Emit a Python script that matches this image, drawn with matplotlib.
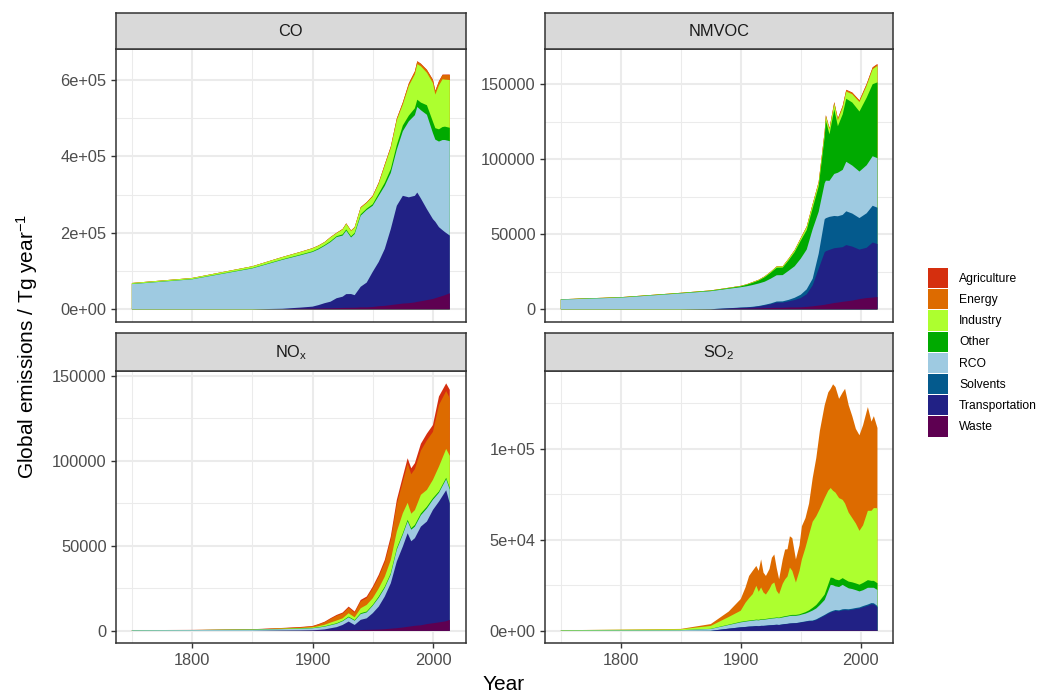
import numpy as np
import matplotlib
matplotlib.use("Agg")
import matplotlib.pyplot as plt
from matplotlib.patches import Patch
from matplotlib.ticker import FixedLocator

plt.rcParams["font.family"] = ["Liberation Sans", "DejaVu Sans"]
plt.rcParams["mathtext.fontset"] = "custom"
plt.rcParams["mathtext.rm"] = "Liberation Sans"
plt.rcParams["mathtext.it"] = "Liberation Sans:italic"
plt.rcParams["mathtext.bf"] = "Liberation Sans:bold"

# ---------------------------------------------------------------------------
# Global anthropogenic emissions by sector (values in thousands)
# ---------------------------------------------------------------------------
UNIT = 1e3

SECTORS = ["Agriculture", "Energy", "Industry", "Other", "RCO", "Solvents",
           "Transportation", "Waste"]
SECTOR_COLORS = ["#D52F0E", "#DD6B00", "#ADFF2F", "#00AA00", "#9ECAE1",
                 "#045A8D", "#212185", "#5E0051"]

# ----- CO -----
co_years = [1750, 1800, 1850, 1875, 1890, 1900, 1905, 1910, 1915, 1920, 1925, 1928,
            1932, 1935, 1940, 1945, 1950, 1955, 1960, 1965, 1970, 1975, 1980, 1985,
            1987, 1990, 1995, 2000, 2002, 2005, 2008, 2010, 2014]
co_agriculture = [0, 0, 0, 0, 0.1, 0.2, 0.2, 0.2, 0.3, 0.3, 0.3, 0.3,
                  0.3, 0.3, 0.4, 0.4, 0.5, 0.5, 0.6, 0.6, 0.7, 0.8, 0.9, 1.0,
                  1.0, 1.0, 1.1, 1.2, 1.2, 1.3, 1.3, 1.4, 1.5]
co_energy = [0, 0, 0.2, 0.3, 0.4, 0.5, 0.5, 0.5, 0.7, 0.8, 1, 1,
             1, 1, 1.5, 1.5, 2, 2.5, 3, 3.5, 4, 5, 6, 7,
             7, 6, 7, 8, 9, 10, 11, 12, 13]
co_industry = [2.5, 3, 4.5, 6, 7, 7.8, 7.5, 7.5, 10, 8, 13, 15,
               14, 14, 17, 15, 20, 26, 45, 55, 65, 55, 78, 89,
               93, 95, 85, 101, 88, 115, 125, 123, 125]
co_other = [0.4, 0.5, 1, 1.2, 1.5, 1.7, 2, 2, 2.3, 2.2, 3, 3,
            3, 3, 3.5, 3.5, 4, 6, 8, 10, 12, 15, 15, 18,
            19, 20, 25, 30, 30, 32, 34, 35, 35]
co_rco = [66, 78.5, 107, 128, 137, 143, 146, 150, 156, 160, 160, 166,
          148, 160, 186, 190, 173, 173, 165, 147, 147, 169, 199, 211,
          224, 231, 247, 225, 215, 224, 236, 241, 247]
co_solvents = [0] * 33
co_transportation = [0, 0, 0, 1, 3, 5, 9, 13.5, 17.5, 26, 29.5, 36,
                     36, 33, 54, 65, 92, 116, 149, 199, 258, 282, 277, 279,
                     286, 269, 238, 209, 200, 183, 172, 165, 151]
co_waste = [0, 0, 0, 0.5, 1.5, 2, 2, 2.5, 2.5, 3, 3.5, 3.8,
            4, 4, 5, 5, 6, 8, 9, 11, 13, 15, 16, 18,
            19.5, 21, 24, 27, 29, 32, 35, 37, 42]

# ----- NMVOC -----
nmvoc_years = [1750, 1800, 1850, 1875, 1890, 1900, 1905, 1910, 1915, 1920, 1925, 1930,
               1935, 1940, 1945, 1950, 1955, 1960, 1965, 1970, 1971, 1974, 1978, 1981,
               1985, 1988, 1993, 1999, 2005, 2010, 2014]
nmvoc_agriculture = [0, 0, 0, 0, 0, 0, 0, 0, 0, 0, 0, 0,
                     0, 0, 0, 0.1, 0.1, 0.1, 0.1, 0.2, 0.2, 0.2, 0.2, 0.2,
                     0.2, 0.2, 0.2, 0.2, 0.3, 0.3, 0.3]
nmvoc_energy = [0, 0, 0, 0, 0.03, 0.05, 0.05, 0.1, 0.1, 0.1, 0.1, 0.1,
                0.1, 0.2, 0.2, 0.2, 0.3, 0.3, 0.4, 0.5, 0.5, 0.6, 0.9, 1,
                1, 1, 1, 1, 1, 1, 1]
nmvoc_industry = [0.1, 0.15, 0.2, 0.2, 0.25, 0.3, 0.3, 0.4, 0.4, 0.5, 0.6, 0.8,
                  0.8, 1, 1.2, 1.5, 2, 2.5, 2.5, 3, 3, 3.3, 3.8, 4,
                  4.5, 4.8, 5.5, 6.3, 8, 10, 11]
nmvoc_other = [0.1, 0.15, 0.2, 0.3, 0.4, 0.6, 1, 1.5, 2, 3, 4, 5,
               5, 7, 9.5, 12, 13, 14, 17, 31, 40, 31, 43, 31,
               37, 42, 42, 40, 45, 48, 50.5]
nmvoc_rco = [6.5, 7.8, 10.6, 12, 13, 13.5, 14, 14.5, 15, 15.4, 16.5, 17.5,
             17.5, 19.4, 21, 24, 26.5, 33, 28, 24, 25, 24, 28, 29,
             30, 33, 32, 31, 32, 33, 33]
nmvoc_solvents = [0, 0, 0, 0, 0.1, 0.2, 0.2, 0.3, 0.3, 0.4, 0.5, 0.7,
                  0.8, 1, 1.5, 2.2, 3.3, 4.4, 10, 22, 22, 22, 21.5, 21,
                  21.5, 22.5, 22, 21, 23, 24.5, 24.2]
nmvoc_transportation = [0, 0, 0, 0, 0.3, 0.5, 0.6, 0.8, 1.2, 1.8, 2.5, 3.5,
                        3.5, 4.1, 5, 6.2, 8.4, 14, 24.5, 35, 35.5, 36, 36.5, 36.5,
                        36.4, 37.5, 36, 33, 33.5, 36.7, 35.3]
nmvoc_waste = [0, 0, 0, 0.1, 0.3, 0.5, 0.55, 0.6, 0.7, 0.8, 0.9, 1,
               1, 1.2, 1.2, 1.3, 1.6, 2, 2.5, 3, 3.2, 3.6, 4.2, 4.5,
               5, 5.3, 5.8, 6.8, 7.5, 7.8, 8.2]

# ----- NOx -----
nox_years = [1750, 1800, 1850, 1875, 1890, 1900, 1905, 1910, 1915, 1920, 1925, 1930,
             1935, 1940, 1945, 1950, 1955, 1960, 1965, 1970, 1975, 1979, 1982, 1985,
             1990, 1995, 2000, 2005, 2011, 2014]
nox_agriculture = [0.06, 0.08, 0.1, 0.15, 0.18, 0.2, 0.25, 0.3, 0.4, 0.5, 0.6, 0.7,
                   0.7, 0.8, 0.9, 1, 1.2, 1.5, 2, 2.5, 3, 3.2, 3.5, 3.5,
                   4, 4, 4, 5, 4.5, 4.9]
nox_energy = [0, 0, 0.05, 0.25, 0.45, 0.6, 1, 1.5, 2.2, 2.8, 2.8, 3.2,
              2.7, 4.1, 4, 5.8, 6.8, 8.3, 11.8, 16.1, 18.5, 23, 23.2, 24.1,
              26, 29.1, 28.2, 36.2, 34, 33.9]
nox_industry = [0, 0.03, 0.1, 0.2, 0.3, 0.4, 0.6, 0.9, 1.3, 1.6, 1.4, 2,
                1.6, 2.9, 3.9, 3.9, 4.8, 5.9, 7.8, 9.8, 11.8, 10, 8.5, 8.7,
                11, 9.9, 10.8, 14.6, 17, 18.9]
nox_other = [0, 0, 0.05, 0.1, 0.12, 0.15, 0.2, 0.2, 0.25, 0.3, 0.3, 0.4,
             0.4, 0.5, 0.5, 0.5, 0.7, 0.7, 0.7, 0.8, 0.8, 0.9, 0.9, 1,
             1, 1, 0.9, 0.8, 0.8, 1]
nox_rco = [0.4, 0.5, 0.7, 0.9, 1.05, 1.2, 1.4, 1.6, 1.8, 2, 2.2, 2.5,
           2.5, 3.4, 3.5, 4.4, 5.2, 5.1, 5.2, 7, 7, 7, 6.8, 6.8,
           6.7, 7.7, 6, 5.2, 6.5, 8]
nox_solvents = [0] * 30
nox_transportation = [0, 0, 0, 0.05, 0.1, 0.2, 0.4, 0.7, 1.3, 1.9, 3.15, 5.1,
                      3.1, 6, 6.8, 9.7, 13.5, 19.2, 26.7, 39.2, 47.6, 55, 50, 51.5,
                      58, 60.3, 66.6, 71, 77, 68.5]
nox_waste = [0, 0, 0, 0.1, 0.12, 0.15, 0.2, 0.2, 0.25, 0.3, 0.35, 0.4,
             0.4, 0.5, 0.6, 0.7, 0.8, 1, 1.3, 1.6, 2, 2.4, 2.7, 3,
             3.3, 4, 4.5, 5, 5.7, 6.5]

# ----- SO2 -----
so2_years = [1750, 1800, 1850, 1875, 1890,
             1900, 1904, 1907, 1910, 1913, 1915, 1917, 1919, 1921, 1924, 1926, 1928,
             1930, 1932, 1935, 1937, 1939, 1941, 1943, 1946, 1949, 1951, 1954, 1957,
             1960, 1963, 1966, 1970, 1973, 1975, 1977, 1979, 1982, 1985, 1987, 1990,
             1993, 1996, 1999, 2002, 2006, 2009, 2011, 2014]
so2_agriculture = [0] * 49
so2_energy = [0, 0.05, 0.2, 1, 3,
              6.4, 8.4, 12.2, 12.8, 10.9, 11.5, 15.4, 10.9, 10.2, 11, 14.5, 15.4,
              12.5, 8.2, 13.3, 16.4, 15, 17.2, 18, 12.7, 14, 18.2, 16.3, 17,
              24, 32, 43, 51, 54, 54.5, 58.5, 58, 54.5, 59, 63, 59,
              56, 52, 52.5, 55, 57, 49, 50.5, 44.1]
so2_industry = [0.2, 0.35, 0.5, 1.6, 4.2,
                6.1, 10.1, 12.3, 14.3, 18.6, 15.4, 17.5, 14.7, 13.4, 16.1, 18.6, 19.4,
                14.6, 12.9, 18.1, 20.2, 21.6, 26.2, 24.2, 17.8, 23.9, 29.7, 35.4, 41.7,
                47.3, 48.75, 50.4, 53, 51.5, 49.2, 47.9, 47.7, 45.2, 43, 41.8, 37.9,
                35.3, 32.9, 29.6, 31.65, 38.1, 38.5, 40, 41.2]
so2_other = [0, 0, 0, 0.1, 0.2,
             0.3, 0.3, 0.3, 0.3, 0.3, 0.3, 0.3, 0.3, 0.3, 0.3, 0.3, 0.3,
             0.3, 0.3, 0.4, 0.4, 0.4, 0.4, 0.5, 0.5, 0.5, 0.6, 0.8, 1.0,
             1.5, 1.9, 2.4, 3, 3.6, 4, 4, 3.8, 3.7, 3.7, 3.7, 3.7,
             3.7, 3.7, 3.7, 4, 4.2, 3.8, 3.8, 3.7]
so2_rco = [0.2, 0.3, 0.4, 1, 2,
           2.7, 2.9, 3.0, 3.1, 3.2, 3.2, 3.3, 3.3, 3.4, 3.5, 3.6, 3.6,
           3.7, 3.7, 3.8, 3.9, 4.0, 4.1, 4.1, 4.0, 4.0, 4.1, 4.3, 4.7,
           5.5, 6, 6.8, 8.2, 12, 14.7, 14, 13, 12.8, 13.4, 12.5, 11.5,
           10.8, 9.8, 8.8, 8.7, 9.2, 8.4, 8.5, 8.8]
so2_solvents = [0, 0, 0, 0, 0.02,
                0.05, 0.05, 0.05, 0.05, 0.05, 0.05, 0.05, 0.05, 0.05, 0.05, 0.05, 0.05,
                0.05, 0.05, 0.05, 0.05, 0.05, 0.05, 0.05, 0.05, 0.1, 0.15, 0.15, 0.2,
                0.3, 0.35, 0.4, 0.4, 0.45, 0.5, 0.5, 0.5, 0.5, 0.6, 0.6, 0.6,
                0.6, 0.6, 0.6, 0.65, 0.7, 0.7, 0.7, 0.7]
so2_transportation = [0, 0, 0, 0.05, 1.2,
                      1.9, 2.1, 2.3, 2.4, 2.6, 2.5, 2.7, 2.7, 2.8, 3.0, 3.1, 3.2,
                      3.3, 3.2, 3.5, 3.7, 3.8, 4.0, 4.1, 4.2, 4.4, 4.6, 4.9, 5.2,
                      5.2, 5.8, 6.8, 8.2, 9.3, 9.9, 10.4, 10.8, 10.6, 11.1, 11.2, 11.1,
                      11.4, 11.8, 12.1, 12.8, 13.6, 14.4, 14.3, 12.8]
so2_waste = [0, 0, 0, 0, 0.03,
             0.05, 0.05, 0.05, 0.05, 0.05, 0.05, 0.05, 0.05, 0.05, 0.05, 0.05, 0.05,
             0.05, 0.05, 0.05, 0.05, 0.05, 0.05, 0.05, 0.05, 0.1, 0.15, 0.15, 0.2,
             0.2, 0.2, 0.2, 0.2, 0.2, 0.2, 0.2, 0.2, 0.2, 0.2, 0.2, 0.2,
             0.2, 0.2, 0.2, 0.2, 0.2, 0.2, 0.2, 0.2]

PANELS = [
    ("CO", co_years,
     [co_agriculture, co_energy, co_industry, co_other, co_rco, co_solvents,
      co_transportation, co_waste],
     [0, 2e5, 4e5, 6e5], ["0e+00", "2e+05", "4e+05", "6e+05"], [1e5, 3e5, 5e5], 648e3),
    ("NMVOC", nmvoc_years,
     [nmvoc_agriculture, nmvoc_energy, nmvoc_industry, nmvoc_other, nmvoc_rco,
      nmvoc_solvents, nmvoc_transportation, nmvoc_waste],
     [0, 5e4, 1e5, 1.5e5], ["0", "50000", "100000", "150000"], [2.5e4, 7.5e4, 1.25e5], 165e3),
    ("NO$_\\mathregular{x}$", nox_years,
     [nox_agriculture, nox_energy, nox_industry, nox_other, nox_rco,
      nox_solvents, nox_transportation, nox_waste],
     [0, 5e4, 1e5, 1.5e5], ["0", "50000", "100000", "150000"], [2.5e4, 7.5e4, 1.25e5], 145.5e3),
    ("SO$_\\mathregular{2}$", so2_years,
     [so2_agriculture, so2_energy, so2_industry, so2_other, so2_rco,
      so2_solvents, so2_transportation, so2_waste],
     [0, 5e4, 1e5], ["0e+00", "5e+04", "1e+05"], [2.5e4, 7.5e4, 1.25e5], 136e3),
]

# ---------------------------------------------------------------------------
# Layout (pixels on a 1040 x 693 canvas)
# ---------------------------------------------------------------------------
W, H = 1040, 693
fig = plt.figure(figsize=(W / 100, H / 100), dpi=100)
fig.patch.set_facecolor("white")

COLS = [(116, 465.7), (545, 893.3)]
ROWS = [(13, 49.3, 321.7), (333.3, 371, 643.3)]   # strip top, panel top, panel bottom

def frac_rect(x0, y0, x1, y1):
    return [x0 / W, 1 - y1 / H, (x1 - x0) / W, (y1 - y0) / H]

GRID = "#EBEBEB"
BORDER = "#333333"
TICK_TXT = "#4D4D4D"
X0, X1 = 1750, 2014
XPAD = 0.05 * (X1 - X0)

for i, (title, yrs, layers, yt, ytl, ymin_ticks, ymax) in enumerate(PANELS):
    r, c = divmod(i, 2)
    x0, x1 = COLS[c]
    st, pt, pb = ROWS[r]
    ax = fig.add_axes(frac_rect(x0, pt, x1, pb))
    sax = fig.add_axes(frac_rect(x0, st, x1, pt))

    years = np.array(yrs, dtype=float)
    # stacked areas: paint cumulative totals from the top sector downwards
    vals = [np.array(v, dtype=float) * UNIT for v in layers]
    cum = np.cumsum(vals[::-1], axis=0)[::-1]   # cum[k] = sum of sectors k..end
    for k, name in enumerate(SECTORS):
        if np.all(vals[k] == 0):
            continue
        ax.fill_between(years, 0, cum[k], facecolor=SECTOR_COLORS[k],
                        edgecolor="none", linewidth=0, zorder=2)

    ax.set_xlim(X0 - XPAD, X1 + XPAD)
    ax.set_ylim(-0.05 * ymax, 1.05 * ymax)
    ax.set_facecolor("white")

    ax.xaxis.set_major_locator(FixedLocator([1800, 1900, 2000]))
    ax.xaxis.set_minor_locator(FixedLocator([1750, 1850, 1950]))
    ax.yaxis.set_major_locator(FixedLocator(yt))
    ax.yaxis.set_minor_locator(FixedLocator(ymin_ticks))
    ax.set_yticklabels(ytl)
    if r == 0:
        ax.set_xticklabels([])
    else:
        ax.set_xticklabels(["1800", "1900", "2000"])

    ax.grid(which="major", color=GRID, linewidth=1.5, zorder=0)
    ax.grid(which="minor", color=GRID, linewidth=0.75, zorder=0)
    ax.set_axisbelow(True)
    ax.tick_params(which="major", length=3.6, width=1.0, color=BORDER,
                   labelsize=11.8, labelcolor=TICK_TXT, pad=3.2)
    ax.tick_params(which="minor", length=0)
    if r == 0:
        ax.tick_params(axis="x", which="major", length=0)
    for sp in ax.spines.values():
        sp.set_color(BORDER)
        sp.set_linewidth(1.1)
        sp.set_zorder(5)

    sax.set_facecolor("#D9D9D9")
    sax.set_xticks([])
    sax.set_yticks([])
    for sp in sax.spines.values():
        sp.set_color(BORDER)
        sp.set_linewidth(1.1)
    sax.text(0.5, 0.5, title, transform=sax.transAxes, ha="center", va="center",
             fontsize=11.8, color="#1A1A1A")

# axis titles
fig.text(504 / W, 1 - 684 / H, "Year", ha="center", va="center", fontsize=15, color="black")
fig.text(27 / W, 1 - 346 / H, "Global emissions / Tg year$^{-1}$", rotation=90,
         ha="center", va="center", fontsize=15, color="black")

# legend: 20 x 20 px keys, 1 px apart
handles = [Patch(facecolor=col, edgecolor="none", label=name)
           for name, col in zip(SECTORS, SECTOR_COLORS)]
fs = 8.7
key_w_pt = 20 * 0.72
key_h_pt = 20.2 * 0.72
hh = (key_h_pt / fs - 0.245) / 0.65
fig.legend(handles=handles, loc="upper left",
           bbox_to_anchor=(928 / W, 1 - 268 / H), frameon=False,
           fontsize=fs, handlelength=key_w_pt / fs, handleheight=hh,
           labelspacing=1.0 * 0.72 / fs, handletextpad=11 * 0.72 / fs,
           borderpad=0, borderaxespad=0)

fig.savefig("out.png", dpi=100, facecolor="white")
